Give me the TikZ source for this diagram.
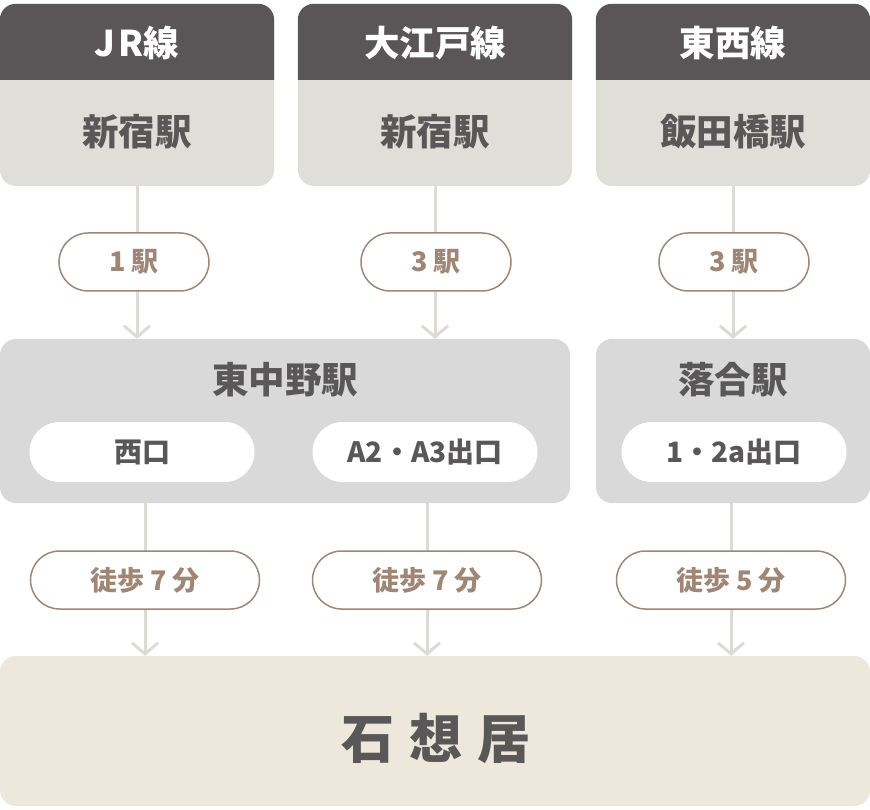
\documentclass[tikz,border=0pt]{standalone}
\usepackage{fontspec}
\setmainfont{Noto Sans CJK JP}
\usetikzlibrary{arrows.meta,backgrounds}

\definecolor{hdrdark}{HTML}{5A5657}
\definecolor{topgray}{HTML}{E0DED9}
\definecolor{midgray}{HTML}{D9D9D9}
\definecolor{goalbeige}{HTML}{EDE7DC}
\definecolor{pillbrown}{HTML}{A08775}
\definecolor{linegray}{HTML}{DDDBD5}
\definecolor{textdark}{HTML}{595757}

\tikzset{
  topbox/.style={fill=topgray, rounded corners=16pt, minimum width=274pt, minimum height=182pt, inner sep=0pt},
  midbox/.style={fill=midgray, rounded corners=16pt, minimum height=164pt, inner sep=0pt},
  hdrtext/.style={text=white, font=\fontsize{35.5}{40}\selectfont\bfseries},
  stationtext/.style={text=textdark, font=\fontsize{36.5}{42}\selectfont\bfseries},
  exitpill/.style={fill=white, rounded corners=30pt, minimum width=225pt, minimum height=60pt, text=textdark, font=\fontsize{28}{32}\selectfont\bfseries},
  pill/.style={draw=pillbrown, line width=1.5pt, fill=white, rounded corners=29pt, minimum height=58pt, text=pillbrown, font=\fontsize{27}{32}\selectfont\bfseries},
  conn/.style={draw=linegray, line width=3pt, -{Straight Barb[length=11pt, width=26pt, line width=3pt]}},
}

\begin{document}
\begin{tikzpicture}[x=1pt, y=-1pt]
  \useasboundingbox (0,0) rectangle (870,810);

  % lines
  \node [topbox] (jr) at (137,95) {};
  \node [topbox] (oe) at (435,95) {};
  \node [topbox] (ts) at (733,95) {};
  \foreach \b in {jr,oe,ts}
    \fill [hdrdark] ([yshift=-76pt]\b.north west) [rounded corners=16pt] -- (\b.north west) -- (\b.north east) [sharp corners] -- ([yshift=-76pt]\b.north east) -- cycle;
  \node [hdrtext] (jrh) at ([yshift=-39pt]jr.north) {J\hspace{3pt}R線};
  \node [hdrtext] (oeh) at ([yshift=-39pt]oe.north) {大江戸線};
  \node [hdrtext] (tsh) at ([yshift=-39pt]ts.north) {東西線};
  \node [stationtext] (jrs) at ([yshift=-128pt]jr.north) {新宿駅};
  \node [stationtext] (oes) at ([yshift=-128pt]oe.north) {新宿駅};
  \node [stationtext] (tss) at ([yshift=-128pt]ts.north) {飯田橋駅};

  % transfer stations
  \node [midbox, minimum width=570pt] (hn) at (285,421) {};
  \node [midbox, minimum width=274pt] (oc) at (733,421) {};
  \node [stationtext] (hnt) at ([yshift=-41pt]hn.north) {東中野駅};
  \node [stationtext] (oct) at ([yshift=-41pt]oc.north) {落合駅};
  \node [exitpill] (nishi) at (142,452) {西口};
  \node [exitpill] (a23) at (425,452) {A2・A3出口};
  \node [exitpill] (ocx) at (734,452) {1・2a出口};

  % goal
  \node [fill=goalbeige, rounded corners=16pt, minimum width=870pt, minimum height=150pt, inner sep=0pt] (goal) at (435,731) {};
  \node [text=textdark, font=\fontsize{53}{60}\selectfont\bfseries] (goalt) at (436,738) {石\hspace{15pt}想\hspace{15pt}居};

  % rides and walks
  \node [pill, minimum width=150pt] (r1) at (134,262) {1 駅};
  \node [pill, minimum width=150pt] (r2) at (436,262) {3 駅};
  \node [pill, minimum width=150pt] (r3) at (734,262) {3 駅};
  \node [pill, minimum width=229pt] (w1) at (145,580) {徒歩 7 分};
  \node [pill, minimum width=229pt] (w2) at (427,580) {徒歩 7 分};
  \node [pill, minimum width=229pt] (w3) at (731,580) {徒歩 5 分};

  \begin{pgfonlayer}{background}
    \draw [conn] (jr.south) -- (jr.south |- hn.north);
    \draw [conn] (oe.south) -- (oe.south |- hn.north);
    \draw [conn] (ts.south) -- (oc.north);
    \draw [conn] (hn.south -| w1) -- (goal.north -| w1);
    \draw [conn] (hn.south -| w2) -- (goal.north -| w2);
    \draw [conn] (oc.south -| w3) -- (goal.north -| w3);
  \end{pgfonlayer}
\end{tikzpicture}
\end{document}
